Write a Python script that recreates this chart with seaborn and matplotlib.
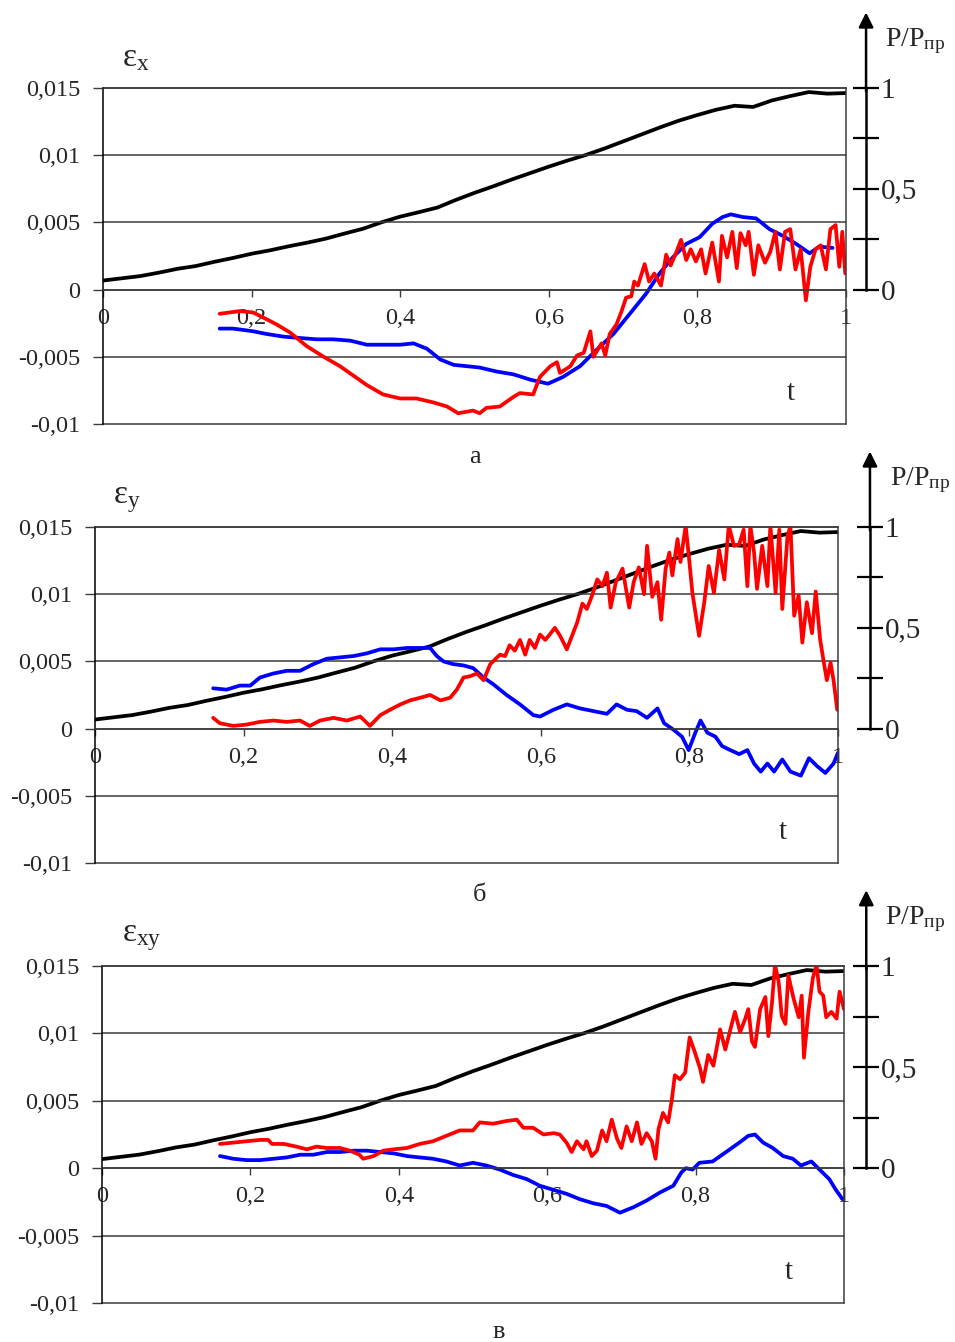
import numpy as np
import pandas as pd
import matplotlib
matplotlib.use('Agg')
import matplotlib.pyplot as plt
import seaborn as sns

# load curve P/Pпр (same for all three tests)
load_t = [0, 0.025, 0.05, 0.075, 0.1, 0.125, 0.15, 0.175, 0.2, 0.225,
          0.25, 0.275, 0.3, 0.325, 0.35, 0.375, 0.4, 0.425, 0.45, 0.475,
          0.5, 0.525, 0.55, 0.575, 0.6, 0.625, 0.65, 0.675, 0.7, 0.725,
          0.75, 0.775, 0.8, 0.825, 0.85, 0.875, 0.9, 0.925, 0.95, 0.975, 1.0]
load_p = [0.045, 0.056, 0.067, 0.084, 0.103, 0.117, 0.138, 0.157, 0.178, 0.195,
          0.215, 0.233, 0.253, 0.278, 0.302, 0.334, 0.362, 0.384, 0.407, 0.445,
          0.480, 0.512, 0.546, 0.578, 0.610, 0.640, 0.668, 0.700, 0.735, 0.770,
          0.805, 0.838, 0.866, 0.892, 0.912, 0.906, 0.938, 0.960, 0.980, 0.972, 0.975]

# panel а : eps_x
red_a_t = [0.157, 0.184, 0.202, 0.220, 0.234, 0.252, 0.274, 0.297, 0.319, 0.337,
           0.355, 0.377, 0.400, 0.422, 0.445, 0.463, 0.478, 0.498, 0.507, 0.516,
           0.534, 0.552, 0.561, 0.579, 0.588, 0.602, 0.611, 0.615, 0.629, 0.638,
           0.647, 0.656, 0.660, 0.671, 0.676, 0.682, 0.691, 0.698, 0.704, 0.711,
           0.715, 0.720, 0.729, 0.735, 0.742, 0.751, 0.758, 0.764, 0.771, 0.778,
           0.785, 0.791, 0.798, 0.805, 0.811, 0.820, 0.829, 0.833, 0.840, 0.847,
           0.853, 0.858, 0.865, 0.869, 0.876, 0.882, 0.891, 0.898, 0.905, 0.911,
           0.918, 0.925, 0.932, 0.939, 0.946, 0.952, 0.959, 0.966, 0.973, 0.979,
           0.986, 0.991, 0.995, 0.999]
red_a_v = [-0.0018, -0.0016, -0.0017, -0.0022, -0.0026, -0.0032, -0.0042, -0.0050, -0.0057, -0.0064,
           -0.0071, -0.0078, -0.0081, -0.0081, -0.0084, -0.0087, -0.0092, -0.0090, -0.0092, -0.0088,
           -0.0087, -0.0080, -0.0077, -0.0078, -0.0065, -0.0057, -0.0054, -0.0062, -0.0057, -0.0049,
           -0.0047, -0.0031, -0.0050, -0.0040, -0.0049, -0.0033, -0.0026, -0.0016, -0.0006, -0.0005,
           0.0006, 0.0003, 0.0019, 0.0006, 0.0012, 0.0003, 0.0026, 0.0018, 0.0027, 0.0037,
           0.0022, 0.0030, 0.0021, 0.0030, 0.0012, 0.0035, 0.0006, 0.0040, 0.0024, 0.0043,
           0.0016, 0.0042, 0.0033, 0.0043, 0.0011, 0.0033, 0.0020, 0.0028, 0.0043, 0.0015,
           0.0043, 0.0045, 0.0015, 0.0030, -0.0008, 0.0017, 0.0030, 0.0033, 0.0015, 0.0045,
           0.0048, 0.0017, 0.0043, 0.0012]
blue_a_t = [0.157, 0.175, 0.202, 0.220, 0.243, 0.265, 0.288, 0.310, 0.333, 0.355,
            0.377, 0.400, 0.418, 0.436, 0.454, 0.472, 0.490, 0.507, 0.530, 0.552,
            0.575, 0.599, 0.619, 0.642, 0.664, 0.687, 0.709, 0.731, 0.749, 0.767,
            0.785, 0.803, 0.820, 0.834, 0.845, 0.861, 0.879, 0.897, 0.915, 0.933,
            0.951, 0.964, 0.982]
blue_a_v = [-0.0029, -0.0029, -0.0031, -0.0033, -0.0035, -0.0036, -0.0037, -0.0037, -0.0038, -0.0041,
            -0.0041, -0.0041, -0.0040, -0.0044, -0.0052, -0.0056, -0.0057, -0.0058, -0.0061, -0.0063,
            -0.0067, -0.0070, -0.0065, -0.0057, -0.0045, -0.0033, -0.0018, -0.0003, 0.0012, 0.0024,
            0.0034, 0.0039, 0.0049, 0.0054, 0.0056, 0.0054, 0.0053, 0.0045, 0.0040, 0.0034,
            0.0027, 0.0032, 0.0031]

# panel б : eps_y
red_b_t = [0.159, 0.168, 0.186, 0.204, 0.222, 0.240, 0.258, 0.276, 0.289, 0.303,
           0.321, 0.339, 0.357, 0.370, 0.384, 0.397, 0.411, 0.424, 0.438, 0.451,
           0.465, 0.478, 0.487, 0.496, 0.505, 0.514, 0.523, 0.532, 0.545, 0.552,
           0.558, 0.565, 0.572, 0.579, 0.585, 0.592, 0.599, 0.606, 0.612, 0.619,
           0.626, 0.635, 0.642, 0.649, 0.656, 0.662, 0.669, 0.676, 0.683, 0.689,
           0.694, 0.701, 0.710, 0.719, 0.725, 0.732, 0.739, 0.743, 0.750, 0.757,
           0.762, 0.768, 0.773, 0.777, 0.784, 0.788, 0.795, 0.800, 0.804, 0.813,
           0.820, 0.826, 0.833, 0.840, 0.847, 0.853, 0.860, 0.867, 0.873, 0.878,
           0.882, 0.887, 0.891, 0.898, 0.905, 0.909, 0.916, 0.921, 0.925, 0.932,
           0.936, 0.941, 0.947, 0.952, 0.958, 0.965, 0.970, 0.976, 0.981, 0.985,
           0.990, 0.994, 0.999]
red_b_v = [0.0008, 0.0004, 0.0002, 0.0003, 0.0005, 0.0006, 0.0005, 0.0006, 0.0002, 0.0006,
           0.0008, 0.0006, 0.0009, 0.0002, 0.0010, 0.0014, 0.0018, 0.0021, 0.0023, 0.0025,
           0.0021, 0.0023, 0.0029, 0.0038, 0.0039, 0.0041, 0.0036, 0.0048, 0.0055, 0.0054,
           0.0062, 0.0058, 0.0066, 0.0055, 0.0066, 0.0060, 0.0070, 0.0066, 0.0070, 0.0075,
           0.0069, 0.0059, 0.0069, 0.0079, 0.0093, 0.0089, 0.0099, 0.0111, 0.0106, 0.0116,
           0.0090, 0.0109, 0.0119, 0.0090, 0.0109, 0.0120, 0.0100, 0.0136, 0.0098, 0.0109,
           0.0081, 0.0119, 0.0131, 0.0114, 0.0141, 0.0124, 0.0151, 0.0124, 0.0101, 0.0069,
           0.0094, 0.0121, 0.0101, 0.0133, 0.0111, 0.0151, 0.0136, 0.0137, 0.0148, 0.0106,
           0.0151, 0.0131, 0.0104, 0.0136, 0.0106, 0.0151, 0.0101, 0.0148, 0.0089, 0.0143,
           0.0151, 0.0084, 0.0099, 0.0064, 0.0094, 0.0071, 0.0102, 0.0066, 0.0049, 0.0036,
           0.0049, 0.0036, 0.0014]
blue_b_t = [0.159, 0.177, 0.195, 0.209, 0.222, 0.240, 0.258, 0.276, 0.294, 0.312,
            0.330, 0.348, 0.366, 0.384, 0.402, 0.420, 0.438, 0.451, 0.460, 0.469,
            0.482, 0.496, 0.509, 0.523, 0.536, 0.554, 0.572, 0.590, 0.599, 0.617,
            0.635, 0.653, 0.671, 0.689, 0.702, 0.716, 0.729, 0.743, 0.757, 0.766,
            0.779, 0.790, 0.799, 0.808, 0.815, 0.824, 0.835, 0.844, 0.855, 0.867,
            0.878, 0.887, 0.896, 0.905, 0.914, 0.925, 0.936, 0.950, 0.961, 0.972,
            0.983, 0.994, 1.0]
blue_b_v = [0.0030, 0.0029, 0.0032, 0.0032, 0.0038, 0.0041, 0.0043, 0.0043, 0.0048, 0.0052,
            0.0053, 0.0054, 0.0056, 0.0059, 0.0059, 0.0060, 0.0060, 0.0060, 0.0054, 0.0050,
            0.0048, 0.0047, 0.0045, 0.0038, 0.0033, 0.0025, 0.0018, 0.0010, 0.0009, 0.0014,
            0.0018, 0.0015, 0.0013, 0.0011, 0.0018, 0.0014, 0.0013, 0.0008, 0.0015, 0.0004,
            -0.0001, -0.0006, -0.0016, -0.0003, 0.0006, -0.0003, -0.0006, -0.0013, -0.0016, -0.0019,
            -0.0016, -0.0026, -0.0032, -0.0026, -0.0032, -0.0023, -0.0032, -0.0035, -0.0022, -0.0028,
            -0.0033, -0.0026, -0.0018]

# panel в : eps_xy
red_c_t = [0.159, 0.177, 0.195, 0.213, 0.224, 0.229, 0.245, 0.262, 0.276, 0.289,
           0.303, 0.321, 0.334, 0.347, 0.352, 0.366, 0.379, 0.393, 0.411, 0.428,
           0.446, 0.464, 0.482, 0.500, 0.509, 0.527, 0.545, 0.559, 0.568, 0.581,
           0.595, 0.609, 0.617, 0.626, 0.633, 0.640, 0.649, 0.653, 0.660, 0.667,
           0.674, 0.680, 0.687, 0.694, 0.700, 0.707, 0.714, 0.721, 0.727, 0.734,
           0.741, 0.746, 0.750, 0.756, 0.763, 0.768, 0.772, 0.779, 0.786, 0.792,
           0.799, 0.806, 0.810, 0.817, 0.824, 0.833, 0.840, 0.846, 0.853, 0.860,
           0.867, 0.871, 0.876, 0.880, 0.887, 0.894, 0.898, 0.903, 0.907, 0.912,
           0.916, 0.921, 0.925, 0.932, 0.939, 0.943, 0.946, 0.952, 0.958, 0.963,
           0.967, 0.972, 0.976, 0.983, 0.990, 0.994, 1.000]
red_c_v = [0.0018, 0.0019, 0.0020, 0.0021, 0.0021, 0.0018, 0.0018, 0.0016, 0.0014, 0.0016,
           0.0015, 0.0015, 0.0013, 0.0010, 0.0007, 0.0009, 0.0013, 0.0014, 0.0015, 0.0018,
           0.0020, 0.0024, 0.0028, 0.0028, 0.0034, 0.0033, 0.0035, 0.0036, 0.0030, 0.0030,
           0.0025, 0.0026, 0.0025, 0.0019, 0.0012, 0.0020, 0.0014, 0.0020, 0.0009, 0.0013,
           0.0028, 0.0020, 0.0036, 0.0022, 0.0015, 0.0031, 0.0020, 0.0034, 0.0018, 0.0026,
           0.0020, 0.0007, 0.0029, 0.0041, 0.0034, 0.0051, 0.0069, 0.0066, 0.0071, 0.0097,
           0.0086, 0.0074, 0.0064, 0.0084, 0.0076, 0.0103, 0.0088, 0.0101, 0.0116, 0.0101,
           0.0111, 0.0118, 0.0094, 0.0090, 0.0118, 0.0127, 0.0098, 0.0123, 0.0151, 0.0138,
           0.0113, 0.0107, 0.0143, 0.0126, 0.0112, 0.0128, 0.0082, 0.0116, 0.0141, 0.0151,
           0.0131, 0.0128, 0.0112, 0.0116, 0.0111, 0.0131, 0.0118]
blue_c_t = [0.159, 0.177, 0.195, 0.213, 0.231, 0.249, 0.267, 0.285, 0.303, 0.321,
            0.339, 0.357, 0.375, 0.393, 0.411, 0.428, 0.446, 0.464, 0.482, 0.500,
            0.518, 0.536, 0.554, 0.572, 0.590, 0.608, 0.626, 0.644, 0.662, 0.680,
            0.698, 0.716, 0.734, 0.752, 0.770, 0.781, 0.787, 0.796, 0.805, 0.823,
            0.841, 0.859, 0.871, 0.880, 0.891, 0.904, 0.918, 0.931, 0.942, 0.956,
            0.967, 0.980, 0.989, 0.998]
blue_c_v = [0.0009, 0.0007, 0.0006, 0.0006, 0.0007, 0.0008, 0.0010, 0.0010, 0.0012, 0.0012,
            0.0013, 0.0013, 0.0012, 0.0011, 0.0009, 0.0008, 0.0007, 0.0005, 0.0002, 0.0004,
            0.0002, -0.0001, -0.0005, -0.0008, -0.0013, -0.0016, -0.0019, -0.0023, -0.0026, -0.0028,
            -0.0033, -0.0029, -0.0024, -0.0018, -0.0013, -0.0003, 0.0000, -0.0001, 0.0004, 0.0005,
            0.0012, 0.0019, 0.0024, 0.0025, 0.0019, 0.0015, 0.0009, 0.0007, 0.0002, 0.0005,
            -0.0001, -0.0008, -0.0016, -0.0023]

yticks = [-0.01, -0.005, 0, 0.005, 0.01, 0.015]
ytick_labels = ['-0,01', '-0,005', '0', '0,005', '0,01', '0,015']
xticks = [0, 0.2, 0.4, 0.6, 0.8, 1]
xtick_labels = ['0', '0,2', '0,4', '0,6', '0,8', '1']
load_ticks = [0, 0.25, 0.5, 0.75, 1]
load_tick_labels = ['0', '', '0,5', '', '1']

sns.set_style('white')
plt.rcParams['font.family'] = ['Liberation Serif', 'DejaVu Serif']
plt.rcParams['mathtext.fontset'] = 'custom'
plt.rcParams['mathtext.rm'] = 'Liberation Serif'
plt.rcParams['mathtext.it'] = 'Liberation Serif:italic'

GRID = '#3c3c3c'
LW = 2.7

fig = plt.figure(figsize=(9.55, 13.42), dpi=100)

panels = [
    dict(rect=[0.10785, 0.68405, 0.77801, 0.25037], red=(red_a_t, red_a_v), blue=(blue_a_t, blue_a_v),
         eps=r'$\mathregular{ε_x}$', eps_xy=(0.026, 1.089), letter='а', letter_xy=(0.50, -0.098),
         raxis=1.027, plabel_x=1.0525),
    dict(rect=[0.09948, 0.35693, 0.77801, 0.25037], red=(red_b_t, red_b_v), blue=(blue_b_t, blue_b_v),
         eps=r'$\mathregular{ε_y}$', eps_xy=(0.024, 1.08), letter='б', letter_xy=(0.518, -0.095),
         raxis=1.043, plabel_x=1.07),
    dict(rect=[0.10681, 0.02906, 0.77696, 0.25112], red=(red_c_t, red_c_v), blue=(blue_c_t, blue_c_v),
         eps=r'$\mathregular{ε_{xy}}$', eps_xy=(0.027, 1.083), letter='в', letter_xy=(0.535, -0.086),
         raxis=1.030, plabel_x=1.055),
]

for p in panels:
    ax = fig.add_axes(p['rect'])
    ax2 = ax.twinx()

    # load curve on the right-hand scale
    sns.lineplot(x=load_t, y=load_p, ax=ax2, color='black', lw=LW, estimator=None, sort=False)
    ax2.set_ylim(-2 / 3, 1)

    red = pd.DataFrame({'t': p['red'][0], 'eps': p['red'][1]})
    blue = pd.DataFrame({'t': p['blue'][0], 'eps': p['blue'][1]})
    sns.lineplot(data=blue, x='t', y='eps', ax=ax, color='#0000ff', lw=LW, estimator=None, sort=False)
    sns.lineplot(data=red, x='t', y='eps', ax=ax, color='#ff0000', lw=LW, estimator=None, sort=False)

    ax.set_xlim(0, 1)
    ax.set_ylim(-0.01, 0.015)
    ax.set_xlabel('')
    ax.set_ylabel('')
    ax2.set_ylabel('')
    ax.set_zorder(ax2.get_zorder() + 1)
    ax.patch.set_visible(False)
    ax.set_axisbelow(True)

    ax.set_yticks(yticks, labels=ytick_labels)
    ax.set_xticks(xticks, labels=xtick_labels)
    ax.yaxis.grid(True, color=GRID, lw=1.1)
    ax.xaxis.grid(False)
    for gl in ax.get_ygridlines():
        gl.set_clip_on(False)
    ax.tick_params(axis='y', direction='out', length=7.5, width=1.0, color=GRID,
                   pad=9, labelsize=17.5, left=True)
    ax.tick_params(axis='x', direction='out', length=5, width=1.0, color=GRID,
                   pad=8, labelsize=17.5, bottom=True)
    ax.spines['bottom'].set_position(('data', 0))
    for s in ['left', 'right', 'top', 'bottom']:
        ax.spines[s].set_color(GRID)
        ax.spines[s].set_linewidth(1.1)
    ax.spines['left'].set_color('black')

    # right axis with arrow
    for s in ['left', 'top', 'bottom']:
        ax2.spines[s].set_visible(False)
    ax2.spines['right'].set_position(('axes', p['raxis']))
    ax2.spines['right'].set_bounds(0, 1)
    ax2.spines['right'].set_linewidth(1.8)
    ax2.spines['right'].set_color('black')
    ax2.set_yticks(load_ticks, labels=load_tick_labels)
    ax2.tick_params(axis='y', direction='inout', length=19, width=1.6, color='black',
                    pad=1, labelsize=21)
    ax2.annotate('', xy=(p['raxis'], 1.225), xytext=(p['raxis'], 0.99),
                 xycoords='axes fraction', textcoords='axes fraction', annotation_clip=False,
                 arrowprops=dict(arrowstyle='-|>', color='black', lw=1.8, mutation_scale=22,
                                 shrinkA=0, shrinkB=0))

    ax.text(p['plabel_x'], 1.14, r'$\mathregular{P/P_{пр}}$', transform=ax.transAxes,
            fontsize=20, ha='left', va='center')
    ax.text(p['eps_xy'][0], p['eps_xy'][1], p['eps'], transform=ax.transAxes,
            fontsize=24, ha='left', va='center')
    ax.text(0.926, 0.092, 't', transform=ax.transAxes, fontsize=21, ha='center', va='center')
    ax.text(p['letter_xy'][0], p['letter_xy'][1], p['letter'], transform=ax.transAxes,
            fontsize=19, ha='center', va='center')

fig.savefig('out.png', dpi=100)
